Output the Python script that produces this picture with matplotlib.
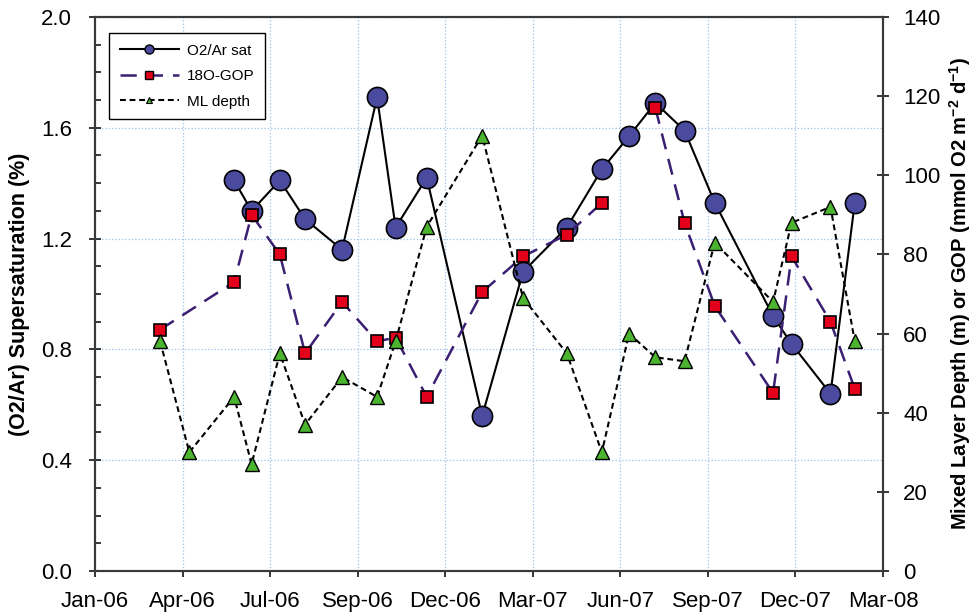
import matplotlib
matplotlib.use('Agg')
import matplotlib.pyplot as plt
import matplotlib.dates as mdates
from matplotlib.lines import Line2D
from matplotlib.ticker import MultipleLocator, FormatStrFormatter
import numpy as np
import pandas as pd

plt.rcParams['font.family'] = ['Liberation Sans', 'DejaVu Sans']
plt.rcParams['mathtext.fontset'] = 'custom'
plt.rcParams['mathtext.rm'] = 'Liberation Sans'
plt.rcParams['mathtext.bf'] = 'Liberation Sans:bold'

# Station occupations
sample_dates = pd.to_datetime([
    '2006-03-10', '2006-04-09', '2006-05-25', '2006-06-12', '2006-07-11',
    '2006-08-06', '2006-09-13', '2006-10-19', '2006-11-07', '2006-12-09',
    '2007-02-04', '2007-03-18', '2007-05-02', '2007-06-07', '2007-07-05',
    '2007-08-01', '2007-08-31', '2007-10-01', '2007-11-30', '2007-12-19',
    '2008-01-28', '2008-02-22'])

# O2/Ar supersaturation (%), no data for the first two occupations
o2ar_sat = np.array([np.nan, np.nan, 1.41, 1.30, 1.41, 1.27, 1.16, 1.71, 1.24, 1.42,
                     0.56, 1.08, 1.24, 1.45, 1.57, 1.69, 1.59, 1.33, 0.92, 0.82,
                     0.64, 1.33])

# Mixed layer depth (m)
ml_depth = np.array([58, 30, 44, 27, 55, 37, 49, 44, 58, 87,
                     110, 69, 55, 30, 60, 54, 53, 83, 68, 88,
                     92, 58])

# 18O-GOP (mmol O2 m-2 d-1); not sampled in Apr-06, missing in Jul-07 (line broken there)
gop_dates = pd.to_datetime([
    '2006-03-10', '2006-05-25', '2006-06-12', '2006-07-11',
    '2006-08-06', '2006-09-13', '2006-10-19', '2006-11-07', '2006-12-09',
    '2007-02-04', '2007-03-18', '2007-05-02', '2007-06-07', '2007-07-05',
    '2007-08-01', '2007-08-31', '2007-10-01', '2007-11-30', '2007-12-19',
    '2008-01-28', '2008-02-22'])
gop_18o = np.array([61, 73, 90, 80, 55, 68, 58, 59, 44,
                    70.5, 79.5, 85, 93, np.nan, 117, 88, 67, 45, 79.5,
                    63, 46])

axis_start = pd.Timestamp('2006-01-02')
tick_step_days = 90

circle_fc = '#4a4a9e'
square_fc = '#e2001a'
triangle_fc = '#4cb530'
gop_line = '#3a1f73'
spine_c = '#3a3a3a'

fig = plt.figure(figsize=(9.77, 6.16), dpi=100)
ax = fig.add_axes([0.0972, 0.0731, 0.8066, 0.8993])
ax2 = ax.twinx()

ax.plot(sample_dates, o2ar_sat, color='black', lw=1.5, marker='o', ms=14.5,
        mfc=circle_fc, mec='black', mew=1.2, zorder=3)
ax2.plot(gop_dates, gop_18o, color=gop_line, lw=1.8, dashes=(6.5, 4),
         marker='s', ms=9, mfc=square_fc, mec='black', mew=1.2, zorder=3)
ax2.plot(sample_dates, ml_depth, color='black', lw=1.5, dashes=(2.8, 1.8),
         marker='^', ms=9.5, mfc=triangle_fc, mec='black', mew=1.0, zorder=4)

# x axis: date ticks every 90 days
x0 = mdates.date2num(axis_start)
xticks = x0 + tick_step_days * np.arange(10)
ax.set_xticks(xticks)
ax.xaxis.set_major_formatter(mdates.DateFormatter('%b-%y'))
ax.set_xlim(xticks[0], xticks[-1])

ax.set_ylim(0, 2.0)
ax.yaxis.set_major_locator(MultipleLocator(0.4))
ax.yaxis.set_minor_locator(MultipleLocator(0.1))
ax.yaxis.set_major_formatter(FormatStrFormatter('%.1f'))
ax2.set_ylim(0, 140)
ax2.yaxis.set_major_locator(MultipleLocator(20))

ax.grid(True, which='major', color='#9cc2ea', ls=':', lw=0.9)
ax.set_axisbelow(True)

ax.tick_params(axis='x', direction='out', length=4.5, width=1.1, pad=10,
               labelsize=16, colors='black')
ax.tick_params(axis='y', which='major', direction='inout', length=9, width=1.1,
               pad=12, labelsize=16)
ax.tick_params(axis='y', which='minor', direction='in', length=4.5, width=1.1)
ax2.tick_params(axis='y', which='major', direction='inout', length=9, width=1.1,
                pad=10, labelsize=16)

for a in (ax, ax2):
    for s in a.spines.values():
        s.set_color(spine_c)
        s.set_linewidth(1.5)
ax2.patch.set_visible(False)

ax.set_ylabel('(O2/Ar) Supersaturation (%)', fontsize=15.5, fontweight='bold',
              labelpad=8)
ax2.set_ylabel(r'Mixed Layer Depth (m) or GOP (mmol O2 m$^{\mathbf{-2}}$ d$^{\mathbf{-1}}$)',
               fontsize=14.5, fontweight='bold', labelpad=5)

handles = [
    Line2D([], [], color='black', lw=1.5, marker='o', ms=6.5, mfc=circle_fc,
           mec='black', mew=1.0),
    Line2D([], [], color=gop_line, lw=1.8, dashes=(6.5, 4), marker='s', ms=5.5,
           mfc=square_fc, mec='black', mew=1.0),
    Line2D([], [], color='black', lw=1.5, dashes=(2.8, 1.8), marker='^', ms=5,
           mfc=triangle_fc, mec='black', mew=0.8),
]
labels = ['O2/Ar sat', '18O-GOP', 'ML depth']
leg = ax2.legend(handles, labels, loc='upper left', bbox_to_anchor=(0.0178, 0.971),
                 borderaxespad=0, frameon=True, fancybox=False, framealpha=1,
                 edgecolor='black', fontsize=11, numpoints=1, handlelength=3.9,
                 handletextpad=0.5, labelspacing=0.75, borderpad=0.7)
leg.get_frame().set_linewidth(1.0)
leg.set_zorder(10)

fig.savefig('out.png', dpi=100)
